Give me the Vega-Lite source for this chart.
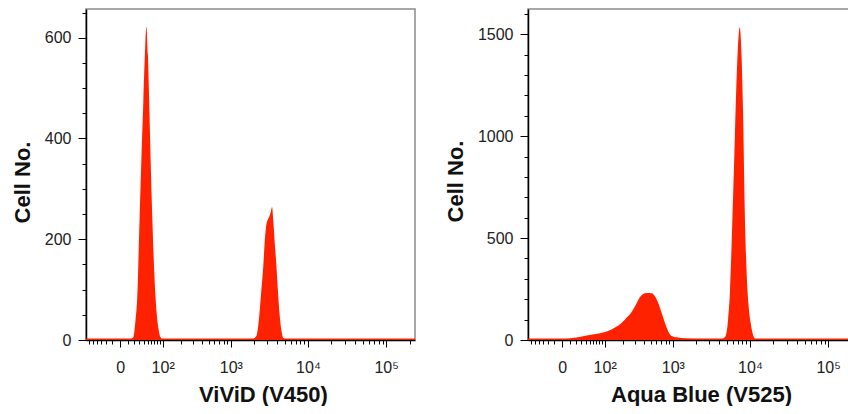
{
  "$schema": "https://vega.github.io/schema/vega-lite/v6.json",
  "padding": {"left": 10, "top": 3, "right": 0, "bottom": 0},
  "spacing": 27,
  "config": {
    "view": {"stroke": "#8c8c8c", "strokeWidth": 1.5},
    "axis": {
      "grid": false,
      "domainColor": "#000000",
      "domainWidth": 1.5,
      "tickColor": "#000000",
      "tickWidth": 1,
      "labelFont": "Liberation Sans",
      "labelFontSize": 16,
      "labelColor": "#222222",
      "titleFont": "Liberation Sans",
      "titleFontSize": 22,
      "titleFontWeight": "bold",
      "titleColor": "#111111",
      "labelOverlap": false,
      "labelFlush": false,
      "labelBound": false
    }
  },
  "datasets": {
    "vivid": [
      {"x": -69, "n": 3}, {"x": -30, "n": 3}, {"x": 0, "n": 3}, {"x": 10, "n": 3},
      {"x": 15.8, "n": 3}, {"x": 19.2, "n": 6}, {"x": 22.7, "n": 36}, {"x": 26.5, "n": 90},
      {"x": 30.6, "n": 229}, {"x": 34.8, "n": 358}, {"x": 39.4, "n": 477}, {"x": 43.0, "n": 567},
      {"x": 46.7, "n": 622}, {"x": 50.6, "n": 567}, {"x": 54.7, "n": 457}, {"x": 59.0, "n": 338},
      {"x": 63.4, "n": 239}, {"x": 69.7, "n": 129}, {"x": 76.4, "n": 60}, {"x": 83.4, "n": 24},
      {"x": 90.9, "n": 6}, {"x": 98.8, "n": 3}, {"x": 300, "n": 3}, {"x": 1000, "n": 3},
      {"x": 1976, "n": 3}, {"x": 2162, "n": 8}, {"x": 2365, "n": 50}, {"x": 2511, "n": 99},
      {"x": 2665, "n": 149}, {"x": 2787, "n": 199}, {"x": 2915, "n": 229}, {"x": 3048, "n": 239},
      {"x": 3187, "n": 245}, {"x": 3333, "n": 255}, {"x": 3454, "n": 264}, {"x": 3590, "n": 235},
      {"x": 3754, "n": 189}, {"x": 3925, "n": 149}, {"x": 4104, "n": 99}, {"x": 4291, "n": 56},
      {"x": 4552, "n": 20}, {"x": 4832, "n": 4}, {"x": 5124, "n": 3}, {"x": 20000, "n": 3},
      {"x": 100000, "n": 3}, {"x": 234000, "n": 3}
    ],
    "aqua": [
      {"x": -69, "n": 7}, {"x": 0, "n": 7}, {"x": 10.6, "n": 8}, {"x": 24, "n": 13},
      {"x": 45.9, "n": 23}, {"x": 82.3, "n": 33}, {"x": 114.7, "n": 44}, {"x": 150, "n": 61},
      {"x": 191.5, "n": 85}, {"x": 228, "n": 110}, {"x": 271, "n": 139}, {"x": 309, "n": 172},
      {"x": 345, "n": 204}, {"x": 389, "n": 224}, {"x": 443, "n": 231}, {"x": 519, "n": 229},
      {"x": 576, "n": 213}, {"x": 639, "n": 180}, {"x": 711, "n": 131}, {"x": 787, "n": 82},
      {"x": 872, "n": 41}, {"x": 967, "n": 20}, {"x": 1127, "n": 13}, {"x": 1500, "n": 8},
      {"x": 3000, "n": 7}, {"x": 4380, "n": 7}, {"x": 4788, "n": 15}, {"x": 5232, "n": 98},
      {"x": 5552, "n": 245}, {"x": 5892, "n": 540}, {"x": 6252, "n": 859}, {"x": 6632, "n": 1202},
      {"x": 6932, "n": 1398}, {"x": 7400, "n": 1534}, {"x": 7804, "n": 1398}, {"x": 8156, "n": 1129},
      {"x": 8528, "n": 687}, {"x": 9048, "n": 343}, {"x": 9596, "n": 172}, {"x": 10180, "n": 88},
      {"x": 10800, "n": 34}, {"x": 11624, "n": 7}, {"x": 50000, "n": 7}, {"x": 234000, "n": 7}
    ]
  },
  "hconcat": [
    {
      "width": 329,
      "height": 331,
      "data": {"name": "vivid"},
      "mark": {"type": "area", "color": "#ff2200", "interpolate": "monotone"},
      "encoding": {
        "x": {
          "field": "x", "type": "quantitative",
          "scale": {"type": "symlog", "constant": 40, "domain": [-69, 234000], "nice": false, "zero": false},
          "axis": {
            "title": "ViViD (V450)",
            "titleX": 177,
            "titlePadding": 9,
            "labelPadding": 12,
            "values": [-60, -50, -40, -30, -20, -10, 0, 10, 20, 30, 40, 50, 60, 70, 80, 90, 100, 200, 300, 400, 500, 600, 700, 800, 900, 1000, 2000, 3000, 4000, 5000, 6000, 7000, 8000, 9000, 10000, 20000, 30000, 40000, 50000, 60000, 70000, 80000, 90000, 100000, 200000],
            "labelExpr": "datum.value === 0 ? '0' : datum.value === 100 ? '10²' : datum.value === 1000 ? '10³' : datum.value === 10000 ? '10⁴' : datum.value === 100000 ? '10⁵' : ''",
            "tickSize": {"condition": {"test": "indexof([0, 100, 1000, 10000, 100000], datum.value) >= 0", "value": 7}, "value": 4}
          }
        },
        "y": {
          "field": "n", "type": "quantitative",
          "scale": {"domain": [0, 657], "nice": false},
          "axis": {
            "title": "Cell No.",
            "titleY": 173,
            "titlePadding": 10,
            "labelPadding": 7,
            "format": "d",
            "values": [0, 50, 100, 150, 200, 250, 300, 350, 400, 450, 500, 550, 600, 650],
            "labelExpr": "datum.value % 200 === 0 ? datum.label : ''",
            "tickSize": {"condition": {"test": "datum.value % 200 === 0", "value": 8}, "value": 4}
          }
        }
      }
    },
    {
      "width": 329,
      "height": 331,
      "data": {"name": "aqua"},
      "mark": {"type": "area", "color": "#ff2200", "interpolate": "monotone"},
      "encoding": {
        "x": {
          "field": "x", "type": "quantitative",
          "scale": {"type": "symlog", "constant": 40, "domain": [-69, 234000], "nice": false, "zero": false},
          "axis": {
            "title": "Aqua Blue (V525)",
            "titleX": 173,
            "titlePadding": 9,
            "labelPadding": 12,
            "values": [-60, -50, -40, -30, -20, -10, 0, 10, 20, 30, 40, 50, 60, 70, 80, 90, 100, 200, 300, 400, 500, 600, 700, 800, 900, 1000, 2000, 3000, 4000, 5000, 6000, 7000, 8000, 9000, 10000, 20000, 30000, 40000, 50000, 60000, 70000, 80000, 90000, 100000, 200000],
            "labelExpr": "datum.value === 0 ? '0' : datum.value === 100 ? '10²' : datum.value === 1000 ? '10³' : datum.value === 10000 ? '10⁴' : datum.value === 100000 ? '10⁵' : ''",
            "tickSize": {"condition": {"test": "indexof([0, 100, 1000, 10000, 100000], datum.value) >= 0", "value": 7}, "value": 4}
          }
        },
        "y": {
          "field": "n", "type": "quantitative",
          "scale": {"domain": [0, 1624], "nice": false},
          "axis": {
            "title": "Cell No.",
            "titleY": 172,
            "titlePadding": 10,
            "labelPadding": 7,
            "format": "d",
            "values": [0, 100, 200, 300, 400, 500, 600, 700, 800, 900, 1000, 1100, 1200, 1300, 1400, 1500, 1600],
            "labelExpr": "datum.value % 500 === 0 ? datum.label : ''",
            "tickSize": {"condition": {"test": "datum.value % 500 === 0", "value": 8}, "value": 4}
          }
        }
      }
    }
  ]
}
